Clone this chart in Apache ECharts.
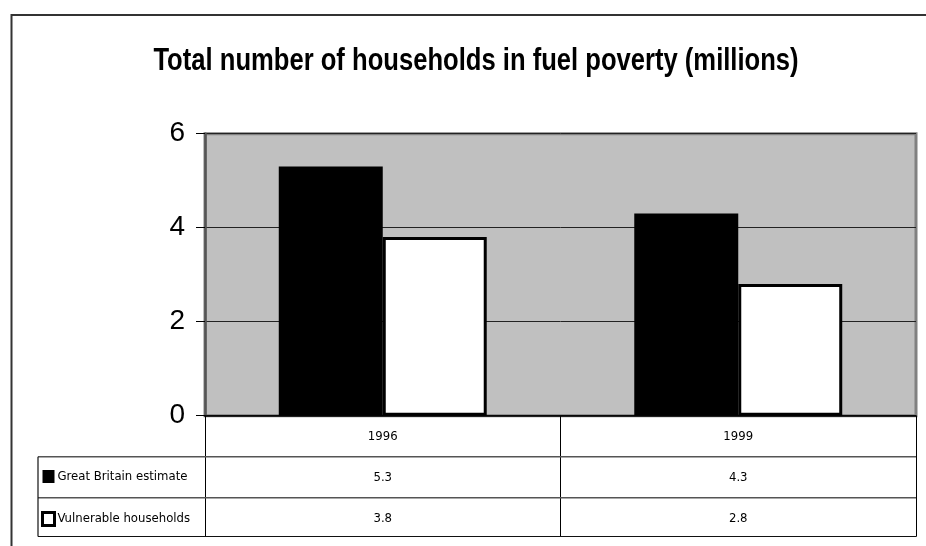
<!DOCTYPE html>
<html>
<head>
<meta charset="utf-8">
<script src="https://cdn.jsdelivr.net/npm/echarts@6/dist/echarts.min.js"></script>
<style>
html,body{margin:0;padding:0;background:#fff;}
#main{width:926px;height:546px;}
</style>
</head>
<body>
<div id="main"></div>
<script>
const titleText = 'Total number of households in fuel poverty (millions)';
const categories = ['1996', '1999'];
const seriesNames = ['Great Britain estimate', 'Vulnerable households'];
const gbValues = [5.3, 4.3];
const vulnerableValues = [3.8, 2.8];
const yTicks = [0, 2, 4, 6];

const narrow = '"Liberation Sans Narrow","DejaVu Sans Condensed","Liberation Sans",sans-serif';
const chart = echarts.init(document.getElementById('main'), null, {renderer: 'canvas'});

const tableLine = (x1, y1, x2, y2, color, w) => ({
  type: 'line', silent: true, z: 10,
  shape: {x1, y1, x2, y2},
  style: {stroke: color, lineWidth: w}
});

const option = {
  backgroundColor: '#ffffff',
  animation: false,
  grid: {
    left: 205, right: 10, top: 133.7, bottom: 130.3,
    show: true, backgroundColor: '#C0C0C0', borderColor: '#808080', borderWidth: 3
  },
  legend: {
    orient: 'vertical', left: 41, top: 470, padding: 0,
    itemWidth: 12, itemHeight: 13, itemGap: 28,
    icon: 'rect',
    data: [
      {name: seriesNames[0], itemStyle: {color: '#000', borderWidth: 0}},
      {name: seriesNames[1], itemStyle: {color: '#fff', borderColor: '#000', borderWidth: 3}}
    ],
    textStyle: {fontFamily: narrow, fontSize: 13, color: '#000', padding: [0, 0, 0, -2]}
  },
  xAxis: [
    {
      type: 'category', data: categories, position: 'bottom',
      axisLine: {show: true, lineStyle: {color: '#000', width: 1.5}},
      axisTick: {show: true, interval: 0, length: 121, lineStyle: {color: '#000', width: 1}},
      axisLabel: {margin: 14, fontFamily: narrow, fontSize: 13, color: '#000'},
      splitLine: {show: false}
    },
    {
      type: 'category', data: gbValues.map(v => v.toFixed(1)), position: 'bottom', offset: 41,
      axisLine: {show: false}, axisTick: {show: false},
      axisLabel: {margin: 14, fontFamily: narrow, fontSize: 13, color: '#000'}
    },
    {
      type: 'category', data: vulnerableValues.map(v => v.toFixed(1)), position: 'bottom', offset: 82,
      axisLine: {show: false}, axisTick: {show: false},
      axisLabel: {margin: 14, fontFamily: narrow, fontSize: 13, color: '#000'}
    }
  ],
  yAxis: {
    type: 'value', min: yTicks[0], max: yTicks[yTicks.length - 1], interval: yTicks[1] - yTicks[0],
    axisLine: {show: true, lineStyle: {color: '#555', width: 2.5}},
    axisTick: {show: true, length: 9, lineStyle: {color: '#000', width: 1}},
    axisLabel: {margin: 20, fontFamily: '"Liberation Sans",Arial,sans-serif', fontSize: 28, color: '#000'},
    splitLine: {show: true, lineStyle: {color: '#222', width: 1}}
  },
  series: [
    {
      name: seriesNames[0], type: 'bar', data: gbValues,
      barGap: '0%', barCategoryGap: '41.5%',
      itemStyle: {color: '#000000'}
    },
    {
      name: seriesNames[1], type: 'bar', data: vulnerableValues,
      barGap: '0%', barCategoryGap: '41.5%',
      itemStyle: {color: '#ffffff', borderColor: '#000000', borderWidth: 3}
    }
  ],
  graphic: [
    // outer frame
    tableLine(11.5, 15, 926, 15, '#333', 2),
    tableLine(11.5, 14, 11.5, 546, '#333', 2),
    // title
    {
      type: 'text', x: 476, y: 61, scaleX: 0.8, z: 10,
      style: {
        text: titleText, fill: '#000',
        font: 'bold 32px "Liberation Sans", Arial, sans-serif',
        align: 'center', verticalAlign: 'middle'
      }
    },
    // data table lines
    tableLine(38, 456.7, 916, 456.7, '#555', 1.5),
    tableLine(38, 497.7, 916, 497.7, '#555', 1.5),
    tableLine(38, 536.5, 916, 536.5, '#111', 1.2),
    tableLine(38, 456.7, 38, 536.5, '#111', 1.2)
  ]
};
chart.setOption(option);
</script>
</body>
</html>
